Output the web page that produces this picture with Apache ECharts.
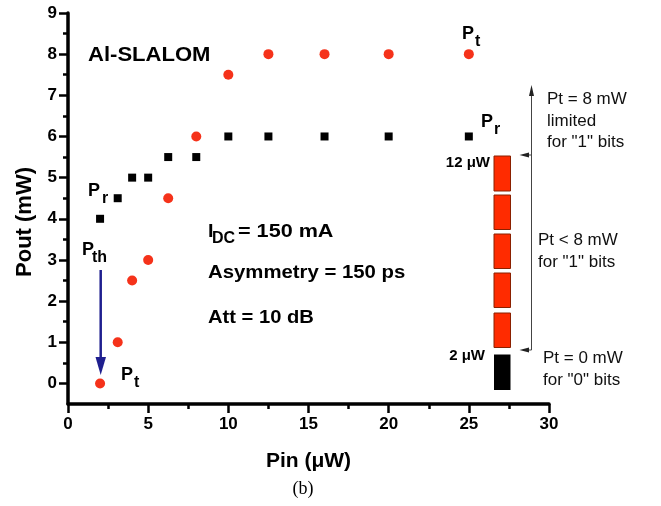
<!DOCTYPE html>
<html>
<head>
<meta charset="utf-8">
<script src="https://cdn.jsdelivr.net/npm/echarts@6/dist/echarts.min.js"></script>
<style>
  html, body { margin: 0; padding: 0; background: #fff; }
  #chart { width: 661px; height: 506px; }
</style>
</head>
<body>
<div id="chart"></div>
<script>
// ========== Data ==========
const pinR = [2, 3.1, 4, 5, 6.25, 8, 10, 12.5, 16, 20, 25];
const poutR = [4, 4.5, 5, 5, 5.5, 5.5, 6, 6, 6, 6, 6];
const pinT = [2, 3.1, 4, 5, 6.25, 8, 10, 12.5, 16, 20, 25];
const poutT = [0, 1, 2.5, 3, 4.5, 6, 7.5, 8, 8, 8, 8];
const yMajor = [0, 1, 2, 3, 4, 5, 6, 7, 8, 9];
const yMinor = [0.5, 1.5, 2.5, 3.5, 4.5, 5.5, 6.5, 7.5, 8.5];

const FONT = 'Arial, "Liberation Sans", sans-serif';
const RED = '#f5321a';

// 文本小工具
const txt = (x, y, text, size, opts, sx) => ({
    type: 'text', x: x, y: y, z: 10, scaleX: sx || 1,
    style: Object.assign({
        text: text, fill: '#000', font: `bold ${size}px ${FONT}`,
        align: 'left', verticalAlign: 'middle'
    }, opts || {})
});
// 带下标的标签 (P_t, P_r ...)
const subLabel = (x, y, main, sub, subDx, size) => [
    txt(x, y, main, size),
    txt(x + subDx, y + 8, sub, size - 2)
];
const reg = (x, y, text) => txt(x, y, text, 17, { font: `17px ${FONT}`, fill: '#111' });

const graphics = [
    txt(88, 55, 'Al-SLALOM', 21, null, 1.05),
    ...subLabel(462, 34, 'P', 't', 13, 18),
    ...subLabel(481, 122, 'P', 'r', 13, 18),
    ...subLabel(88, 191, 'P', 'r', 14, 18),
    ...subLabel(82, 250, 'P', 'th', 10, 18),
    ...subLabel(121, 375, 'P', 't', 13, 18),
    txt(208, 232, 'I', 18, null, 1.1),
    txt(212, 239, 'DC', 16),
    txt(238, 232, '= 150 mA', 18, null, 1.2),
    txt(208, 273, 'Asymmetry = 150 ps', 18, null, 1.13),
    txt(208, 318, 'Att = 10 dB', 18, null, 1.12),
    // P_th 蓝色箭头
    { type: 'line', z: 10, shape: { x1: 100.7, y1: 270, x2: 100.7, y2: 360 },
      style: { stroke: '#1f1f8f', lineWidth: 2.5 } },
    { type: 'polygon', z: 10, shape: { points: [[95.5, 357], [106, 357], [100.7, 375]] },
      style: { fill: '#1f1f8f' } },
    // 比特块
    ...[[156, 191], [195, 229.5], [234, 268.5], [273, 307.5], [313, 347.5]].map(([a, b]) => ({
        type: 'rect', z: 10, shape: { x: 494, y: a, width: 16.5, height: b - a },
        style: { fill: '#ff2b00', stroke: '#8a2000', lineWidth: 1 }
    })),
    { type: 'rect', z: 10, shape: { x: 494, y: 354.5, width: 16.5, height: 35.5 },
      style: { fill: '#000' } },
    txt(490, 163, '12 μW', 15, { align: 'right' }),
    txt(485, 356, '2 μW', 15, { align: 'right' }),
    // 细箭头
    { type: 'line', z: 10, shape: { x1: 531.5, y1: 92, x2: 531.5, y2: 350 },
      style: { stroke: '#444', lineWidth: 1 } },
    { type: 'polygon', z: 10, shape: { points: [[529, 96], [534, 96], [531.5, 85]] },
      style: { fill: '#222' } },
    { type: 'line', z: 10, shape: { x1: 524, y1: 155, x2: 531.5, y2: 155 },
      style: { stroke: '#444', lineWidth: 1 } },
    { type: 'polygon', z: 10, shape: { points: [[519.5, 155], [529, 152.5], [529, 157.5]] },
      style: { fill: '#222' } },
    { type: 'line', z: 10, shape: { x1: 524, y1: 350, x2: 531.5, y2: 350 },
      style: { stroke: '#444', lineWidth: 1 } },
    { type: 'polygon', z: 10, shape: { points: [[519.5, 350], [529, 347.5], [529, 352.5]] },
      style: { fill: '#222' } },
    reg(547, 99, 'Pt = 8 mW'),
    reg(547, 121, 'limited'),
    reg(547, 142, 'for "1" bits'),
    reg(538, 240, 'Pt < 8 mW'),
    reg(538, 262, 'for "1" bits'),
    reg(543, 358, 'Pt = 0 mW'),
    reg(543, 380, 'for "0" bits'),
    // 坐标轴名 & 图号
    txt(25, 222, 'Pout (mW)', 22, { align: 'center' }),
    txt(303, 489, '(b)', 18, { align: 'center', font: `18px "Liberation Serif", "Times New Roman", serif` })
];
// y 轴名需要旋转
graphics[graphics.length - 2].rotation = Math.PI / 2;

const chart = echarts.init(document.getElementById('chart'), null, { renderer: 'canvas' });
chart.setOption({
    backgroundColor: '#fff',
    animation: false,
    grid: { left: 68, right: 112, top: 13, bottom: 102, containLabel: false },
    xAxis: {
        type: 'value', min: 0, max: 30, interval: 5,
        name: 'Pin (μW)', nameLocation: 'middle', nameGap: 47,
        nameTextStyle: { fontFamily: FONT, fontWeight: 'bold', fontSize: 21, color: '#000' },
        axisLine: { onZero: false, lineStyle: { color: '#000', width: 3.5 } },
        axisTick: { length: 9, lineStyle: { width: 2.5, color: '#000' } },
        minorTick: { show: true, splitNumber: 2, length: 5, lineStyle: { width: 2.5, color: '#000' } },
        splitLine: { show: false },
        axisLabel: { margin: 12, fontFamily: FONT, fontWeight: 'bold', fontSize: 17, color: '#000' }
    },
    yAxis: [{
        type: 'value', min: -0.5, max: 9,
        axisLine: { onZero: false, lineStyle: { color: '#000', width: 3.5 } },
        axisTick: { customValues: yMajor, length: 9, lineStyle: { width: 2.5, color: '#000' } },
        splitLine: { show: false },
        axisLabel: { customValues: yMajor, margin: 11, fontFamily: FONT, fontWeight: 'bold', fontSize: 17, color: '#000' }
    }, {
        type: 'value', min: -0.5, max: 9, position: 'left',
        axisLine: { show: false, onZero: false },
        axisTick: { customValues: yMinor, length: 5, lineStyle: { width: 2.5, color: '#000' } },
        splitLine: { show: false },
        axisLabel: { show: false }
    }],
    series: [{
        name: 'Pr', type: 'scatter', symbol: 'rect', symbolSize: 8,
        itemStyle: { color: '#000', opacity: 1 },
        data: pinR.map((x, i) => [x, poutR[i]])
    }, {
        name: 'Pt', type: 'scatter', symbol: 'circle', symbolSize: 10,
        itemStyle: { color: RED, opacity: 1 },
        data: pinT.map((x, i) => [x, poutT[i]])
    }],
    graphic: graphics
});
</script>
</body>
</html>
